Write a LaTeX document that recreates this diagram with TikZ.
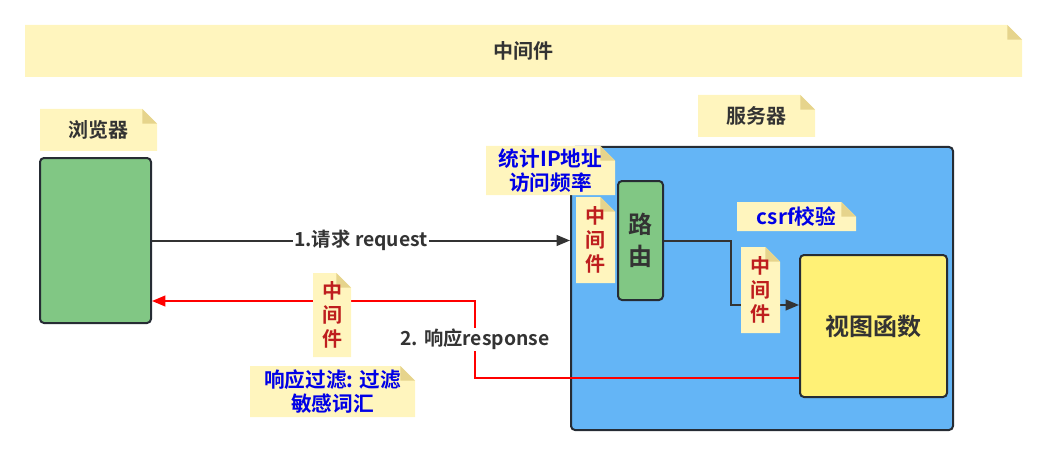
\documentclass[tikz,border=0pt]{standalone}
\usepackage{fontspec}
\setmainfont{Noto Sans CJK SC}[BoldFont={Noto Sans CJK SC Bold}]
\usepackage{tikz}
\usetikzlibrary{arrows,arrows.meta,shapes}
\usetikzlibrary{positioning}
\definecolor{notefill}{RGB}{255,245,190}
\definecolor{notefold}{RGB}{230,212,140}
\definecolor{boxgreen}{RGB}{129,199,132}
\definecolor{boxblue}{RGB}{100,181,246}
\definecolor{boxyellow}{RGB}{255,241,118}
\definecolor{edgedark}{RGB}{38,44,52}
\definecolor{txtdark}{RGB}{51,51,51}
\definecolor{txtblue}{RGB}{0,0,230}
\definecolor{txtred}{RGB}{190,30,30}
\definecolor{lnred}{RGB}{255,0,0}
\tikzstyle{note}=[inner sep=0pt, outer sep=0pt, text=txtdark, align=center,
  font=\bfseries\fontsize{15}{17}\selectfont,
  path picture={
    \fill[notefill] (path picture bounding box.south west)
      |- ([xshift=-11pt]path picture bounding box.north east)
      -- ([yshift=-11pt]path picture bounding box.north east)
      |- (path picture bounding box.south west) -- cycle;
    \fill[notefold] ([xshift=-11pt]path picture bounding box.north east)
      -- ([xshift=-11pt,yshift=-11pt]path picture bounding box.north east)
      -- ([yshift=-11pt]path picture bounding box.north east) -- cycle;
  }]
\tikzstyle{bnote}=[note, text=txtblue, font=\bfseries\fontsize{15.5}{17.5}\selectfont]
\tikzstyle{vnote}=[note, text=txtred, font=\bfseries\fontsize{15}{18}\selectfont]
\tikzstyle{box}=[draw=edgedark, line width=1.5pt, rounded corners=3pt, inner sep=0pt,
  text=txtdark, align=center, font=\bfseries\fontsize{18}{24}\selectfont]
\tikzstyle{conn}=[draw=txtdark, line width=1.5pt, -{Triangle[length=10pt,width=8pt]}]
\tikzstyle{elabel}=[fill=white, inner sep=1pt, text=txtdark,
  font=\bfseries\fontsize{14.5}{17}\selectfont]

\begin{document}
\begin{tikzpicture}[x=0.75pt, y=-0.75pt]
  \path[use as bounding box] (0,0) rectangle (1048,456);
  \node[note, minimum width=747.75pt, minimum height=39pt] (title) at (523.5,51) {中间件};
  % browser and server
  \node[note, minimum width=87.75pt, minimum height=31.5pt] (browsernote) at (98.5,130) {浏览器};
  \node[box, fill=boxgreen, minimum width=83.25pt, minimum height=123.75pt] (browser) at (95.5,240.5) {};
  \node[note, minimum width=87.75pt, minimum height=31.5pt] (servernote) at (756.5,116) {服务器};
  \node[box, fill=boxblue, minimum width=286.5pt, minimum height=212.25pt] (server) at (762,288.5) {};
  \node[box, fill=boxgreen, minimum width=33.75pt, minimum height=89.25pt] (route) at (640.5,240.5) {路\\由};
  \node[box, fill=boxyellow, minimum width=110.25pt, minimum height=106.5pt] (view) at (873.5,326) {视图函数};
  % connectors
  \coordinate (rbend) at (731,305);
  \coordinate (rin) at (475,378);
  \coordinate (rout) at (475,301);
  \draw[conn] (browser.east) -- node[elabel] {1.请求 request} (browser.east -| server.west);
  \draw[conn] (route.east) -| (rbend) -- (rbend -| view.west);
  \draw[conn, draw=lnred] (rin -| view.west) -- (rin)
    -- node[elabel] {2. 响应response} (rout) -- (rout -| browser.east);
  % middleware notes
  \node[bnote, minimum width=96.75pt, minimum height=36.75pt] (ipnote) at (550.5,170.5) {统计IP地址\\访问频率};
  \node[vnote, minimum width=29.25pt, minimum height=64.5pt] (mwin) at (595.5,240) {中\\间\\件};
  \node[bnote, minimum width=89.25pt, minimum height=21.75pt] (csrf) at (796.5,216.5) {csrf校验};
  \node[vnote, minimum width=29.25pt, minimum height=64.5pt] (mwview) at (760.5,290) {中\\间\\件};
  \node[vnote, minimum width=28.5pt, minimum height=63pt] (mwout) at (332,315) {中\\间\\件};
  \node[bnote, minimum width=123.75pt, minimum height=38.25pt] (filter) at (332.5,391.5) {响应过滤: 过滤\\敏感词汇};
\end{tikzpicture}
\end{document}
